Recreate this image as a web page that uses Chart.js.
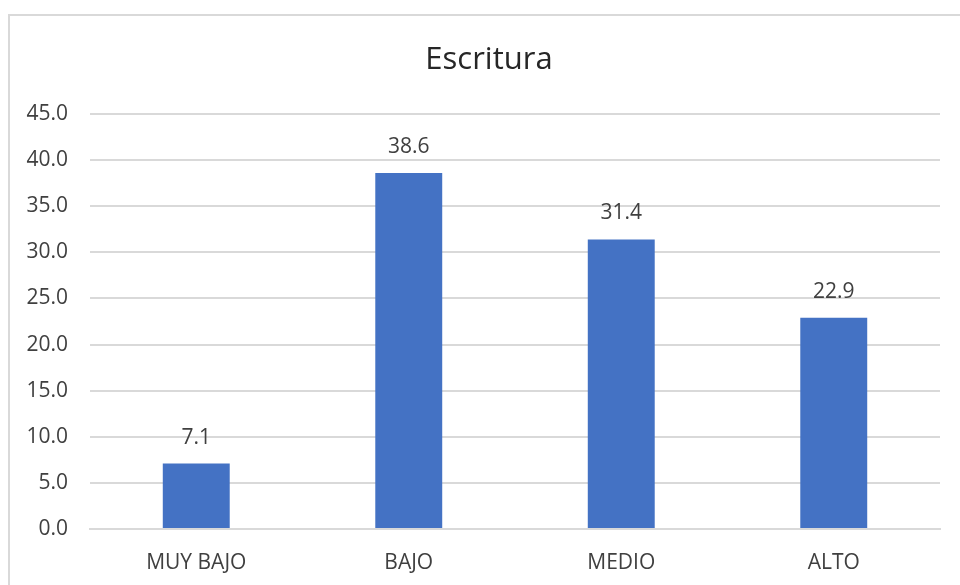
<!DOCTYPE html>
<html lang="es">
<head>
<meta charset="UTF-8">
<title>Escritura</title>
<script src="https://cdn.jsdelivr.net/npm/chart.js"></script>
<style>
    html, body { margin: 0; padding: 0; background: #fff; overflow: hidden; }
    #frame {
        position: absolute; left: 8px; top: 14px;
        width: 1000px; height: 620px;
        border: 2px solid #d9d9d9;
    }
    #wrap { position: absolute; left: 0; top: 0; width: 960px; height: 585px; }
</style>
</head>
<body>
<div id="frame"></div>
<div id="wrap"><canvas id="chart" width="960" height="585"></canvas></div>
<script>
    // datos
    const chartTitle = "Escritura";
    const categories = ["MUY BAJO", "BAJO", "MEDIO", "ALTO"];
    const values = [7.1, 38.6, 31.4, 22.9];
    const yMax = 45;
    const yStep = 5;

    const FONT = "'Open Sans', sans-serif";

    // titulo centrado sobre el marco completo (mas ancho que la ventana)
    const titlePlugin = {
        id: 'titlePlugin',
        afterDraw(chart) {
            const ctx = chart.ctx;
            ctx.save();
            ctx.font = "31px " + FONT;
            ctx.fillStyle = '#262626';
            ctx.textAlign = 'center';
            ctx.textBaseline = 'middle';
            ctx.fillText(chartTitle, 489, 60);
            ctx.restore();
        }
    };

    // etiquetas de valor sobre cada barra
    const valueLabels = {
        id: 'valueLabels',
        afterDatasetsDraw(chart) {
            const ctx = chart.ctx;
            const meta = chart.getDatasetMeta(0);
            ctx.save();
            ctx.font = "21px " + FONT;
            ctx.fillStyle = '#404040';
            ctx.textAlign = 'center';
            ctx.textBaseline = 'middle';
            meta.data.forEach((bar, i) => {
                ctx.fillText(values[i].toFixed(1), bar.x, bar.y - 26);
            });
            ctx.restore();
        }
    };

    new Chart(document.getElementById('chart').getContext('2d'), {
        type: 'bar',
        data: {
            labels: categories,
            datasets: [{
                data: values,
                backgroundColor: '#4472C4',
                categoryPercentage: 1,
                barPercentage: 0.315
            }]
        },
        options: {
            responsive: false,
            animation: false,
            layout: { padding: { left: 0, right: 20, top: 114, bottom: 0 } },
            plugins: {
                legend: { display: false },
                tooltip: { enabled: false },
                title: { display: false }
            },
            scales: {
                x: {
                    grid: { display: false },
                    border: { color: '#d9d9d9', width: 2 },
                    ticks: { color: '#404040', font: { family: FONT, size: 21 }, padding: 13 },
                    afterFit(scale) { scale.height = 56; }
                },
                y: {
                    min: 0,
                    max: yMax,
                    ticks: {
                        stepSize: yStep,
                        color: '#404040',
                        font: { family: FONT, size: 21 },
                        padding: 22,
                        callback: v => v.toFixed(1)
                    },
                    grid: { color: '#d9d9d9', lineWidth: 2, drawTicks: false },
                    border: { display: false },
                    afterFit(scale) { scale.width = 90; }
                }
            }
        },
        plugins: [valueLabels, titlePlugin]
    });
</script>
</body>
</html>
